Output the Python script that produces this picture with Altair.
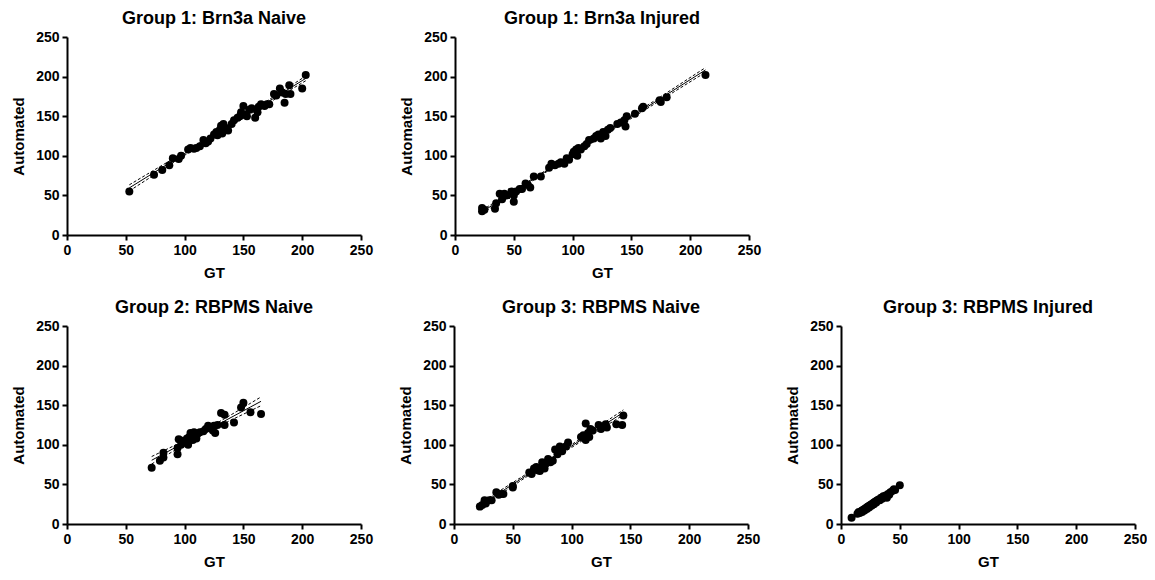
import altair as alt
import pandas as pd

# ---- Data (GT, Automated) ----
p1_gt = [53, 74, 81, 87, 90, 95, 97, 103, 105, 108, 110, 113, 116, 118, 120, 122, 125, 127, 128, 130,
         131, 132, 133, 135, 137, 140, 142, 145, 147, 148, 150, 151, 153, 155, 157, 160, 162, 163, 165, 168,
         170, 172, 176, 178, 181, 183, 185, 186, 189, 190, 200, 203]
p1_auto = [55, 76, 82, 88, 97, 96, 100, 108, 110, 109, 110, 112, 120, 116, 118, 122, 127, 130, 126, 133,
           138, 128, 140, 135, 132, 140, 145, 148, 150, 155, 163, 152, 150, 158, 160, 148, 155, 162, 165, 163,
           165, 165, 178, 176, 185, 180, 167, 178, 189, 178, 185, 202]

p2_gt = [23, 23, 25, 34, 35, 38, 40, 42, 44, 48, 50, 50, 52, 55, 57, 60, 62, 64, 67, 73,
         80, 82, 85, 88, 90, 93, 95, 97, 100, 101, 103, 104, 105, 107, 110, 112, 114, 118, 120, 122,
         124, 126, 128, 130, 132, 138, 141, 144, 145, 146, 153, 159, 160, 174, 175, 180, 213]
p2_auto = [30, 34, 32, 33, 40, 52, 45, 52, 50, 55, 42, 50, 55, 58, 58, 65, 63, 60, 74, 74,
           85, 90, 88, 90, 92, 90, 97, 95, 102, 105, 108, 100, 110, 108, 112, 115, 120, 122, 125, 127,
           122, 130, 125, 133, 135, 140, 142, 145, 137, 150, 153, 160, 162, 170, 168, 174, 202]

p3_gt = [72, 79, 82, 82, 94, 94, 95, 97, 98, 100, 102, 103, 104, 105, 106, 107, 108, 110, 111, 113,
         116, 118, 120, 122, 124, 125, 126, 128, 131, 134, 134, 142, 148, 150, 156, 165]
p3_auto = [71, 80, 84, 90, 88, 96, 107, 100, 105, 103, 108, 100, 110, 115, 112, 106, 116, 108, 114, 116,
           117, 120, 124, 122, 118, 124, 115, 125, 140, 138, 125, 128, 147, 153, 141, 139]

p4_gt = [22, 24, 26, 27, 30, 32, 36, 38, 40, 42, 50, 50, 64, 66, 68, 70, 71, 73, 75, 76,
         77, 78, 80, 82, 84, 86, 88, 90, 92, 95, 97, 108, 110, 112, 112, 114, 115, 116, 118, 123,
         125, 129, 130, 138, 143, 144]
p4_auto = [22, 24, 30, 26, 30, 30, 40, 37, 38, 38, 46, 48, 65, 63, 70, 72, 68, 67, 78, 72,
           70, 76, 82, 78, 80, 94, 88, 98, 92, 98, 103, 110, 112, 127, 106, 115, 110, 120, 118, 125,
           120, 126, 122, 126, 125, 137]

p5_gt = [9, 14, 15, 16, 17, 18, 18, 19, 20, 20, 21, 22, 22, 23, 24, 24, 25, 26, 26, 27,
         28, 28, 29, 30, 30, 31, 32, 33, 34, 35, 36, 37, 38, 39, 40, 41, 42, 44, 45, 46, 50]
p5_auto = [8, 13, 15, 14, 16, 17, 15, 18, 19, 17, 20, 21, 19, 22, 23, 21, 24, 25, 23, 26,
           27, 25, 28, 29, 27, 30, 31, 30, 33, 32, 35, 34, 36, 33, 38, 37, 40, 42, 44, 43, 49]

titles = ["Group 1: Brn3a Naive", "Group 1: Brn3a Injured", "Group 2: RBPMS Naive",
          "Group 3: RBPMS Naive", "Group 3: RBPMS Injured"]
ticks = [0, 50, 100, 150, 200, 250]

FONT = "Liberation Sans"
W, H = 294, 198


def panel(title, gt, auto):
    df = pd.DataFrame({"GT": gt, "Automated": auto})
    xs = alt.Scale(domain=[0, 250], nice=False)
    ys = alt.Scale(domain=[0, 250], nice=False)
    xax = alt.Axis(values=ticks, title="GT", labelOverlap=False, titlePadding=8)
    yax = alt.Axis(values=ticks, title="Automated", labelOverlap=False, titlePadding=9)
    base = alt.Chart(df)
    pts = base.mark_circle(size=64, color="black", opacity=1).encode(
        x=alt.X("GT:Q", scale=xs, axis=xax),
        y=alt.Y("Automated:Q", scale=ys, axis=yax),
    )
    stat = (
        base.transform_joinaggregate(mx="mean(GT)", my="mean(Automated)", n="count()")
        .transform_calculate(dxx="pow(datum.GT - datum.mx, 2)")
        .transform_calculate(dxy="(datum.GT - datum.mx) * (datum.Automated - datum.my)")
        .transform_joinaggregate(sxx="sum(dxx)", sxy="sum(dxy)")
        .transform_calculate(b="datum.sxy / datum.sxx")
        .transform_calculate(a="datum.my - datum.b * datum.mx")
        .transform_calculate(fit="datum.a + datum.b * datum.GT")
        .transform_calculate(r2="pow(datum.Automated - datum.fit, 2)")
        .transform_joinaggregate(sse="sum(r2)")
        .transform_calculate(
            se="sqrt(datum.sse / (datum.n - 2)) * sqrt(1 / datum.n + pow(datum.GT - datum.mx, 2) / datum.sxx)")
        .transform_calculate(hi="datum.fit + 2.01 * datum.se")
        .transform_calculate(lo="datum.fit - 2.01 * datum.se")
    )
    fit = stat.mark_line(color="black", strokeWidth=1).encode(
        x=alt.X("GT:Q", scale=xs, axis=xax), y=alt.Y("fit:Q", scale=ys, axis=yax))
    hi = stat.mark_line(color="black", strokeWidth=1, strokeDash=[3, 2]).encode(
        x=alt.X("GT:Q", scale=xs, axis=xax), y=alt.Y("hi:Q", scale=ys, axis=yax))
    lo = stat.mark_line(color="black", strokeWidth=1, strokeDash=[3, 2]).encode(
        x=alt.X("GT:Q", scale=xs, axis=xax), y=alt.Y("lo:Q", scale=ys, axis=yax))
    return alt.layer(pts, fit, hi, lo).properties(
        width=W, height=H, title=alt.Title(title))


c1 = panel(titles[0], p1_gt, p1_auto)
c2 = panel(titles[1], p2_gt, p2_auto)
c3 = panel(titles[2], p3_gt, p3_auto)
c4 = panel(titles[3], p4_gt, p4_auto)
c5 = panel(titles[4], p5_gt, p5_auto)

top = alt.hconcat(c1, c2, spacing=26)
bottom = alt.hconcat(c3, c4, c5, spacing=25)

chart = (
    alt.vconcat(top, bottom, spacing=19)
    .properties(padding={"left": 3, "right": 0, "top": 2, "bottom": 0})
    .configure_view(stroke=None)
    .configure_axis(
        grid=False, domainColor="black", domainWidth=2, tickColor="black", tickWidth=2,
        tickSize=5, labelFont=FONT, labelFontSize=14, labelFontWeight="bold", labelColor="black",
        labelPadding=3, titleFont=FONT, titleFontSize=15, titleFontWeight="bold",
        titleColor="black", labelFlush=False, labelOverlap=False,
    )
    .configure_title(font=FONT, fontSize=18, fontWeight="bold", color="black",
                     anchor="middle", offset=2)
)

chart.save("out.html", embed_options={"renderer": "svg", "actions": False})
